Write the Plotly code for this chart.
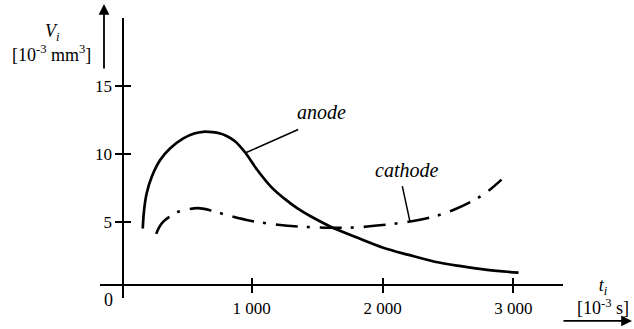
import plotly.graph_objects as go

# ---- data ----
anode_t = [167, 177, 197, 235, 300, 375, 477, 560, 630, 700, 758, 800, 870, 950,
           1040, 1150, 1250, 1350, 1450, 1600, 1800, 2000, 2200, 2400, 2600, 2800, 3040]
anode_v = [4.5, 5.85, 7.1, 8.3, 9.55, 10.4, 11.14, 11.5, 11.63, 11.6, 11.5, 11.35, 10.95, 10.1,
           8.85, 7.55, 6.7, 5.98, 5.4, 4.65, 3.85, 3.1, 2.55, 2.05, 1.72, 1.45, 1.24]

cathode_t = [270, 290, 324, 370, 438, 520, 590, 680, 809, 1000, 1200, 1400, 1600, 1800,
             2000, 2200, 2400, 2550, 2700, 2800, 2910]
cathode_v = [4.1, 4.55, 5.0, 5.35, 5.73, 5.93, 6.0, 5.85, 5.49, 5.05, 4.78, 4.62, 4.55, 4.58,
             4.75, 5.0, 5.4, 5.9, 6.6, 7.2, 8.1]

x_tickvals = [1000, 2000, 3000]
x_ticktext = ["1 000", "2 000", "3 000"]
y_tickvals = [5, 10, 15]
y_ticktext = ["5", "10", "15"]

FONT = "Liberation Serif"
X_RANGE = [-160, 3380]
Y_RANGE = [-0.627, 20.02]
X_POS = 0.0503   # paper position of the vertical axis line
Y_POS = 0.0464   # paper position of the horizontal axis line

fig = go.Figure()
fig.add_trace(go.Scatter(x=anode_t, y=anode_v, mode="lines", line_shape="spline",
                         line=dict(color="black", width=2.7), hoverinfo="skip"))
fig.add_trace(go.Scatter(x=cathode_t, y=cathode_v, mode="lines", line_shape="spline",
                         line=dict(color="black", width=2.6, dash="22px,9px,3px,10px"),
                         hoverinfo="skip"))
# empty trace for overlay axes (inside halves of crossing ticks)
fig.add_trace(go.Scatter(x=[], y=[], xaxis="x2", yaxis="y2", hoverinfo="skip"))

axis_common = dict(showgrid=False, zeroline=False, linecolor="black", linewidth=1.8,
                   tickcolor="black", tickwidth=1.8, ticklen=7, automargin=False,
                   tickfont=dict(family=FONT, size=17, color="black"))

fig.update_layout(
    width=634, height=329,
    margin=dict(l=100, r=71, t=18, b=31, autoexpand=False),
    paper_bgcolor="white", plot_bgcolor="white",
    showlegend=False,
    font=dict(family=FONT, color="black"),
    xaxis=dict(range=X_RANGE, anchor="free", position=Y_POS, showline=True,
               ticks="outside", tickvals=x_tickvals, ticktext=x_ticktext,
               ticklabelstandoff=1, **axis_common),
    yaxis=dict(range=Y_RANGE, anchor="free", position=X_POS, showline=True,
               ticks="outside", tickvals=y_tickvals, ticktext=y_ticktext,
               **axis_common),
    xaxis2=dict(range=X_RANGE, overlaying="x", anchor="free", position=Y_POS,
                showline=False, ticks="inside", tickvals=x_tickvals,
                showticklabels=False, **axis_common),
    yaxis2=dict(range=Y_RANGE, overlaying="y", anchor="free", position=X_POS,
                showline=False, ticks="inside", tickvals=y_tickvals,
                showticklabels=False, **axis_common),
)

tf = dict(family=FONT, size=18, color="black")
lab = dict(family=FONT, size=20, color="black")
C = dict(xanchor="center", yanchor="middle", showarrow=False)
ann = [
    dict(text="0", x=0.0173, y=-0.007, xref="paper", yref="paper", font=tf, **C),
    dict(text="<i>V<sub>i</sub></i>", x=-0.1035, y=0.95, xref="paper", yref="paper",
         font=tf, **C),
    dict(text="[10<sup>-3</sup> mm<sup>3</sup>]", x=-0.1037, y=0.875, xref="paper",
         yref="paper", font=tf, **C),
    dict(text="<i>t<sub>i</sub></i><br>[10<sup>-3</sup> s]", x=1.0864, y=0.006,
         xref="paper", yref="paper", font=tf, **C),
    dict(text="<i>anode</i>", x=1537, y=13.08, xref="x", yref="y", font=lab, **C),
    dict(text="<i>cathode</i>", x=2180, y=8.81, xref="x", yref="y", font=lab, **C),
    # leader lines
    dict(text="", x=954, y=10.08, xref="x", yref="y", showarrow=True, arrowhead=0,
         arrowwidth=1.5, arrowcolor="black", ax=54, ay=-24, standoff=0),
    dict(text="", x=2210, y=5.0, xref="x", yref="y", showarrow=True, arrowhead=0,
         arrowwidth=1.5, arrowcolor="black", ax=-8, ay=-37, standoff=0),
    # axis arrows
    dict(text="", x=0.00864, y=1.05, xref="paper", yref="paper", showarrow=True,
         arrowhead=2, arrowsize=1.2, arrowwidth=1.8, arrowcolor="black", ax=0, ay=66),
    dict(text="", x=1.149, y=-0.082, xref="paper", yref="paper", showarrow=True,
         arrowhead=2, arrowsize=1.2, arrowwidth=1.8, arrowcolor="black", ax=-70, ay=0),
]
fig.update_layout(annotations=ann)

fig.write_html("out.html")
